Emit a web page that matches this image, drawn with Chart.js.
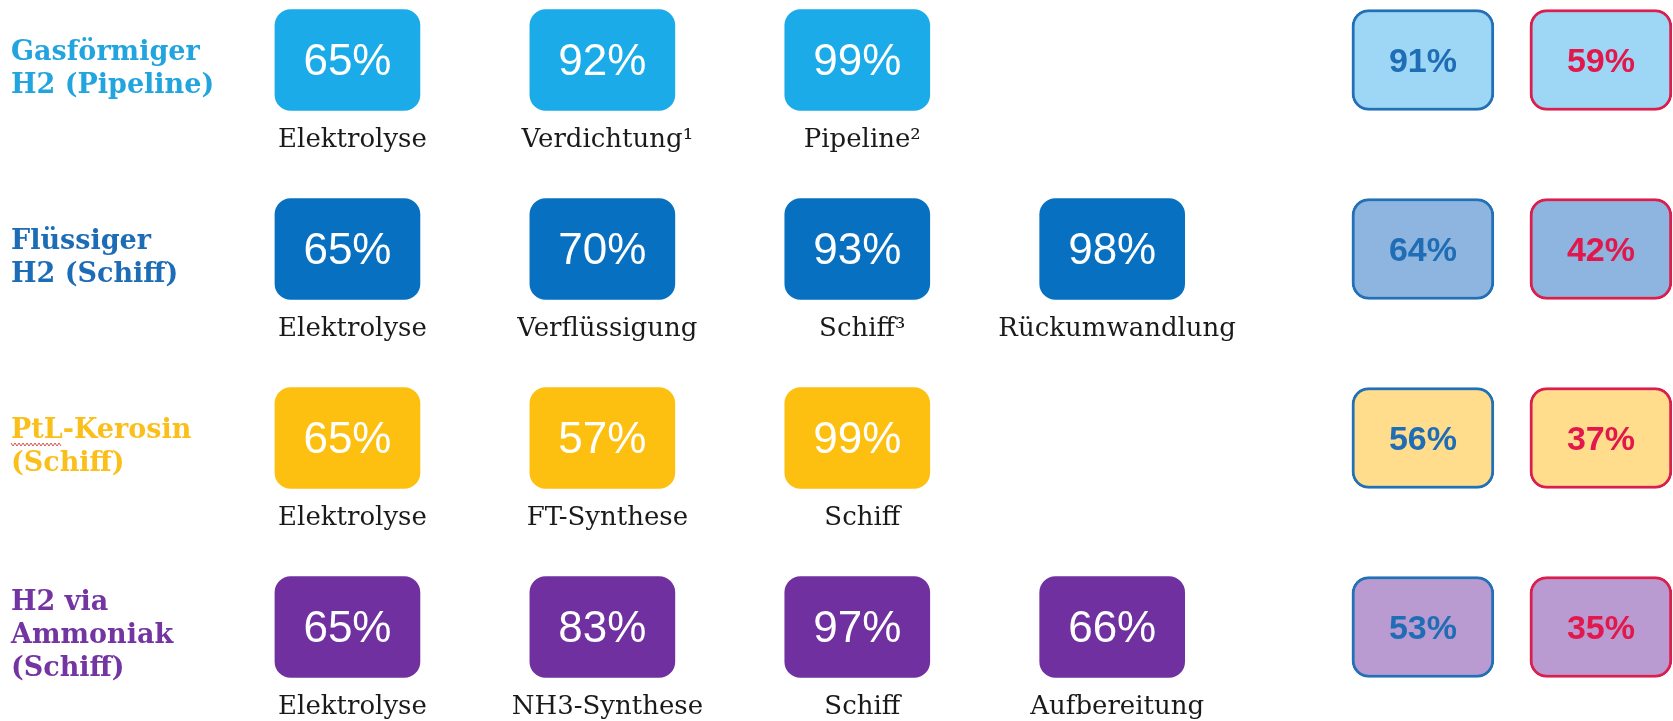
<!DOCTYPE html>
<html>
<head>
<meta charset="utf-8">
<script src="https://cdn.jsdelivr.net/npm/chart.js@4"></script>
<style>
html,body{margin:0;padding:0;background:#fff;}
#c{display:block;}
</style>
</head>
<body>
<canvas id="c" width="1673" height="721"></canvas>
<script>
// ---- data ----
const rowLabels = [
  ['Gasförmiger', 'H2 (Pipeline)'],
  ['Flüssiger', 'H2 (Schiff)'],
  ['PtL-Kerosin', '(Schiff)'],
  ['H2 via', 'Ammoniak', '(Schiff)']
];
const stepValues = [
  [65, 92, 99, null],
  [65, 70, 93, 98],
  [65, 57, 99, null],
  [65, 83, 97, 66]
];
const stepNames = [
  ['Elektrolyse', 'Verdichtung¹', 'Pipeline²', null],
  ['Elektrolyse', 'Verflüssigung', 'Schiff³', 'Rückumwandlung'],
  ['Elektrolyse', 'FT-Synthese', 'Schiff', null],
  ['Elektrolyse', 'NH3-Synthese', 'Schiff', 'Aufbereitung']
];
const totalWithoutElectrolysis = [91, 64, 56, 53];
const totalWithElectrolysis = [59, 42, 37, 35];

// ---- styles ----
const rowColors = ['#1AABE8', '#0870C0', '#FDC010', '#7030A0'];
const labelColors = ['#22A4DF', '#1C6CB6', '#FBBF1C', '#7335A2'];
const totalFills = ['#9ED6F6', '#8DB5E0', '#FFDD8C', '#B99AD1'];
const totalBorders = ['#2270B6', '#DA1F4E'];
const totalTextColors = ['#1F6DB5', '#E2184C'];
const HALF = 0.267;

const datasets = [];
stepValues.forEach((vals, r) => {
  datasets.push({
    kind: 'step', row: r,
    xAxisID: 'x', yAxisID: 'y',
    data: vals.map((v, c) => v == null ? null : {x: c, y: [r - HALF, r + HALF], v: v, name: stepNames[r][c]}).filter(d => d),
    backgroundColor: rowColors[r],
    borderWidth: 0,
    borderRadius: 16,
    borderSkipped: false,
    barThickness: 145,
    grouped: false
  });
});
totalWithoutElectrolysis.forEach((v, r) => {
  datasets.push({
    kind: 'total', row: r,
    xAxisID: 'x2', yAxisID: 'y',
    data: [
      {x: 0, y: [r - HALF, r + HALF], v: v},
      {x: 1, y: [r - HALF, r + HALF], v: totalWithElectrolysis[r]}
    ],
    backgroundColor: totalFills[r],
    borderColor: totalBorders,
    borderWidth: 3,
    borderRadius: 17,
    borderSkipped: false,
    barThickness: 142,
    grouped: false
  });
});

const textPlugin = {
  id: 'texts',
  afterDatasetsDraw(chart) {
    const ctx = chart.ctx;
    ctx.save();
    chart.data.datasets.forEach((ds, i) => {
      const meta = chart.getDatasetMeta(i);
      meta.data.forEach((el, j) => {
        const d = ds.data[j];
        const cy = (el.y + el.base) / 2;
        ctx.textAlign = 'center';
        ctx.textBaseline = 'middle';
        if (ds.kind === 'step') {
          ctx.fillStyle = '#ffffff';
          ctx.font = '44px "Liberation Sans", Arial, sans-serif';
          ctx.fillText(d.v + '%', el.x, cy + 3);
          ctx.fillStyle = '#1a1a1a';
          ctx.font = '26px "DejaVu Serif", serif';
          ctx.fillText(d.name, el.x + 5, cy + 80);
        } else {
          ctx.fillStyle = totalTextColors[j];
          ctx.font = 'bold 34px "Liberation Sans", Arial, sans-serif';
          ctx.fillText(d.v + '%', el.x, cy + 3);
        }
      });
    });
    // row labels
    const ys = chart.scales.y;
    ctx.textAlign = 'left';
    ctx.textBaseline = 'middle';
    ctx.font = 'bold 27px "DejaVu Serif", serif';
    rowLabels.forEach((lines, r) => {
      const cy = ys.getPixelForValue(r) + 9;
      const lh = 33;
      const top = cy - (lines.length - 1) * lh / 2;
      ctx.fillStyle = labelColors[r];
      lines.forEach((t, k) => ctx.fillText(t, 11, top + k * lh));
      if (r === 2) {
        // spell-check squiggle under "PtL"
        const w = ctx.measureText('PtL').width;
        const yb = top + 14;
        ctx.strokeStyle = '#D9534F';
        ctx.lineWidth = 1;
        ctx.beginPath();
        for (let x = 11, k = 0; x <= 11 + w; x += 2, k++) {
          const yy = yb + (k % 2 ? 1.5 : -1.5);
          if (k === 0) ctx.moveTo(x, yy); else ctx.lineTo(x, yy);
        }
        ctx.stroke();
      }
    });
    ctx.restore();
  }
};

new Chart(document.getElementById('c'), {
  type: 'bar',
  data: { datasets: datasets },
  options: {
    responsive: false,
    devicePixelRatio: 1,
    animation: false,
    parsing: { xAxisKey: 'x', yAxisKey: 'y' },
    layout: { padding: 0 },
    plugins: { legend: { display: false }, tooltip: { enabled: false } },
    scales: {
      x: { type: 'linear', display: false, offset: false, min: -1.363, max: 5.200 },
      x2: { type: 'linear', display: false, offset: false, min: -7.994, max: 1.405 },
      y: { type: 'linear', display: false, reverse: true, min: -0.3175, max: 3.4974 }
    }
  },
  plugins: [textPlugin]
});
</script>
</body>
</html>
